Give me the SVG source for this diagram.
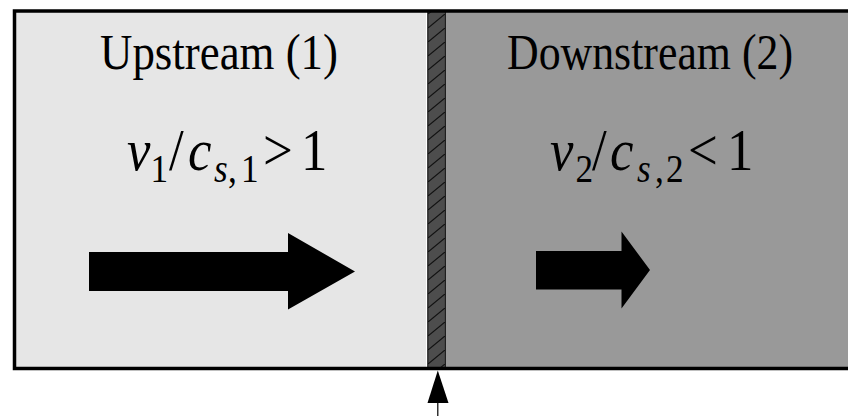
<svg xmlns="http://www.w3.org/2000/svg" width="848" height="416" viewBox="0 0 848 416">
<style>
.title{font-family:"Liberation Serif","Times New Roman",serif;font-size:51px;fill:#000}
.m{font-family:"Liberation Serif","Times New Roman",serif;font-size:60px;fill:#000}
.sub{font-size:40px}
.it{font-style:italic}
.arrow{fill:#000}
</style>
<defs>
<pattern id="hatch" patternUnits="userSpaceOnUse" x="428" y="0" width="17" height="14">
<rect width="17" height="14" fill="#4d4d4d"/>
<line x1="0" y1="14" x2="17" y2="0" stroke="#111" stroke-width="1.2"/>
</pattern>
</defs>
<rect x="0" y="0" width="848" height="416" fill="#ffffff"/>
<g id="upstream">
<rect x="14.5" y="11" width="412" height="357.5" fill="#e6e6e6"/>
<text class="title" x="100" y="69" textLength="238" lengthAdjust="spacingAndGlyphs">Upstream (1)</text>
<text class="m" y="170" transform="scale(0.88,1)"><tspan class="it" x="144.3">v</tspan><tspan class="sub" x="171" y="182">1</tspan><tspan x="192" y="170">/</tspan><tspan class="it" x="213.6">c</tspan><tspan class="it sub" x="243.2" y="182">s</tspan><tspan class="sub" x="259.1">,</tspan><tspan class="sub" x="273.9">1</tspan><tspan x="298.9" y="170">&gt;</tspan><tspan x="342">1</tspan></text>
<polygon class="arrow" points="89,252 288,252 288,233 355,271.5 288,309.5 288,291 89,291"/>
</g>
<g id="shock">
<line x1="426.5" y1="11" x2="426.5" y2="368.5" stroke="#ffffff" stroke-width="1"/>
<rect x="427.8" y="11" width="17.6" height="357.5" fill="url(#hatch)" stroke="#000" stroke-width="1"/>
</g>
<g id="downstream">
<rect x="445.9" y="11" width="402.1" height="357.5" fill="#999999"/>
<text class="title" x="507" y="69" textLength="286" lengthAdjust="spacingAndGlyphs">Downstream (2)</text>
<text class="m" y="170" transform="scale(0.88,1)"><tspan class="it" x="625">v</tspan><tspan class="sub" x="654" y="182">2</tspan><tspan x="672.7" y="170">/</tspan><tspan class="it" x="693.2">c</tspan><tspan class="it sub" x="723.9" y="182">s</tspan><tspan class="sub" x="744.3">,</tspan><tspan class="sub" x="756.8">2</tspan><tspan x="781.8" y="170">&lt;</tspan><tspan x="826.1">1</tspan></text>
<polygon class="arrow" points="536,251 621.5,251 621.5,231.5 650,270 621.5,308.5 621.5,289.5 536,289.5"/>
</g>
<g id="frame" fill="none" stroke="#000" stroke-width="3.5">
<path d="M848,11 H14.5 V368.5 H848"/>
</g>
<g id="connectors">
<line x1="437.8" y1="400" x2="437.8" y2="416" stroke="#000" stroke-width="1.2"/>
<polygon points="437.8,370.5 427.5,403 448.5,403" fill="#000"/>
</g>
</svg>
